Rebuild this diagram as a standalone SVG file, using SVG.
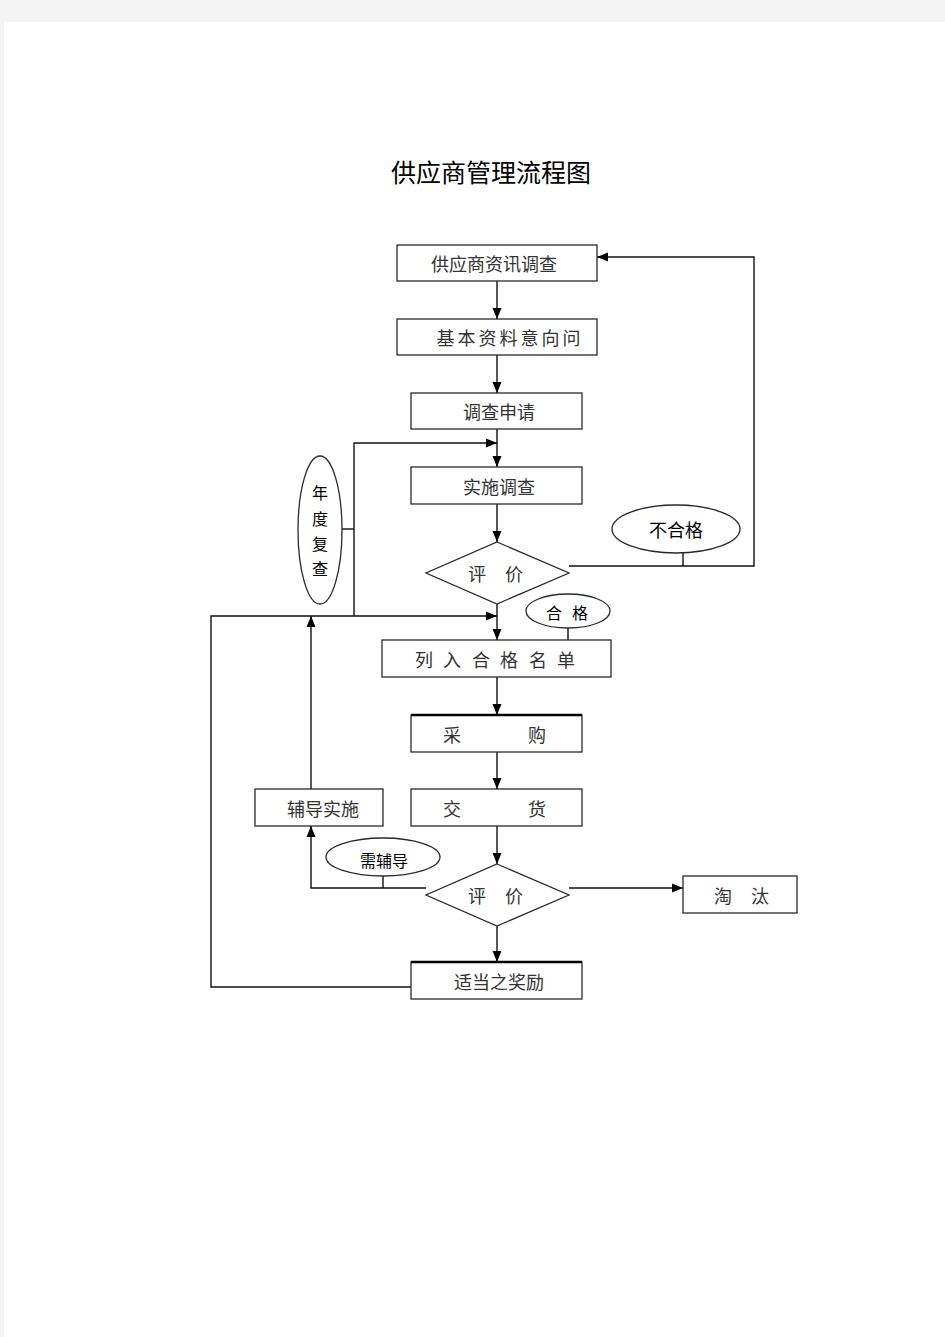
<svg xmlns="http://www.w3.org/2000/svg" width="945" height="1337" viewBox="0 0 945 1337">
<defs>
<style>
.bg{fill:#f4f4f4}
.page{fill:#ffffff}
.box{fill:#ffffff;stroke:#2a2a2a;stroke-width:1.3}
.ell{fill:#ffffff;stroke:#2a2a2a;stroke-width:1.3}
.t{font-family:"Noto Sans CJK SC","Liberation Serif",serif;font-size:18px;fill:#333333;dominant-baseline:central;text-anchor:middle}
.te{font-family:"Noto Sans CJK SC","Liberation Sans",sans-serif;font-size:16px;fill:#000000;dominant-baseline:central;text-anchor:middle}
.title{font-family:"Noto Sans CJK SC","Liberation Serif",serif;font-size:25px;fill:#000000;dominant-baseline:central;text-anchor:middle}
.c{fill:none;stroke:#111111;stroke-width:1.4}
.thick{stroke:#000;stroke-width:2.4}
</style>
<marker id="arr" markerUnits="userSpaceOnUse" markerWidth="12" markerHeight="10" refX="11" refY="5" orient="auto">
<path d="M0,0.5 L11,5 L0,9.5 z" fill="#000000"/>
</marker>
</defs>
<rect class="bg" x="0" y="0" width="945" height="1337"/>
<rect class="page" x="4" y="22" width="941" height="1315"/>
<text class="title" x="491" y="171">供应商管理流程图</text>

<g id="connectors">
<line class="c" x1="497" y1="281" x2="497" y2="319" marker-end="url(#arr)"/>
<line class="c" x1="497" y1="355" x2="497" y2="393" marker-end="url(#arr)"/>
<line class="c" x1="497" y1="429" x2="497" y2="467" marker-end="url(#arr)"/>
<polyline class="c" points="354,616 354,443 497,443" marker-end="url(#arr)"/>
<line class="c" x1="342" y1="529" x2="354" y2="529"/>
<line class="c" x1="497" y1="504" x2="497" y2="542" marker-end="url(#arr)"/>
<polyline class="c" points="569,566 754,566 754,257 597,257" marker-end="url(#arr)"/>
<line class="c" x1="683" y1="553" x2="683" y2="566"/>
<line class="c" x1="497" y1="604" x2="497" y2="640" marker-end="url(#arr)"/>
<line class="c" x1="568" y1="627" x2="568" y2="640"/>
<polyline class="c" points="411,987 211,987 211,616 497,616" marker-end="url(#arr)"/>
<line class="c" x1="311" y1="789" x2="311" y2="616" marker-end="url(#arr)"/>
<line class="c" x1="497" y1="677" x2="497" y2="715" marker-end="url(#arr)"/>
<line class="c" x1="497" y1="752" x2="497" y2="789" marker-end="url(#arr)"/>
<line class="c" x1="497" y1="826" x2="497" y2="864" marker-end="url(#arr)"/>
<polyline class="c" points="426,888 311,888 311,826" marker-end="url(#arr)"/>
<line class="c" x1="383" y1="876" x2="383" y2="888"/>
<line class="c" x1="569" y1="888" x2="683" y2="888" marker-end="url(#arr)"/>
<line class="c" x1="497" y1="926" x2="497" y2="962" marker-end="url(#arr)"/>
</g>

<g id="n1"><rect class="box" x="397" y="245" width="200" height="36"/><text class="t" x="494" y="263">供应商资讯调查</text></g>
<g id="n2"><rect class="box" x="397" y="319" width="200" height="36"/><text class="t" x="510" y="337" letter-spacing="3">基本资料意向问</text></g>
<g id="n3"><rect class="box" x="411" y="393" width="171" height="36"/><text class="t" x="499" y="411">调查申请</text></g>
<g id="n4"><rect class="box" x="411" y="467" width="171" height="37"/><text class="t" x="499" y="486">实施调查</text></g>
<g id="d1"><polygon class="box" points="497,542 569,573 497,604 426,573"/><text class="t" x="477" y="573">评</text><text class="t" x="514" y="573">价</text></g>
<g id="e1"><ellipse class="ell" cx="320" cy="530" rx="22" ry="74"/><text class="te" x="320" y="492">年</text><text class="te" x="320" y="518">度</text><text class="te" x="320" y="543">复</text><text class="te" x="320" y="568">查</text></g>
<g id="e2"><ellipse class="ell" cx="676" cy="529" rx="64" ry="24"/><text class="te" x="676" y="529" style="font-size:18px">不合格</text></g>
<g id="e3"><ellipse class="ell" cx="568" cy="611" rx="42" ry="17"/><text class="te" x="554" y="612">合</text><text class="te" x="580" y="612">格</text></g>
<g id="n5"><rect class="box" x="382" y="640" width="229" height="37"/><text class="t" x="424" y="659">列</text><text class="t" x="452" y="659">入</text><text class="t" x="481" y="659">合</text><text class="t" x="509" y="659">格</text><text class="t" x="538" y="659">名</text><text class="t" x="566" y="659">单</text></g>
<g id="n6"><rect class="box" x="411" y="715" width="171" height="37"/><line class="thick" x1="411" y1="715" x2="582" y2="715"/><text class="t" x="452" y="734">采</text><text class="t" x="537" y="734">购</text></g>
<g id="n7"><rect class="box" x="411" y="789" width="171" height="37"/><text class="t" x="452" y="808">交</text><text class="t" x="537" y="808">货</text></g>
<g id="n8"><rect class="box" x="255" y="789" width="128" height="37"/><text class="t" x="323" y="808">辅导实施</text></g>
<g id="e4"><ellipse class="ell" cx="383" cy="857" rx="57" ry="19"/><text class="te" x="384" y="860">需辅导</text></g>
<g id="d2"><polygon class="box" points="497,864 569,895 497,926 426,895"/><text class="t" x="477" y="895">评</text><text class="t" x="514" y="895">价</text></g>
<g id="n9"><rect class="box" x="683" y="876" width="114" height="37"/><text class="t" x="723" y="895">淘</text><text class="t" x="760" y="895">汰</text></g>
<g id="n10"><rect class="box" x="411" y="962" width="171" height="37"/><line class="thick" x1="411" y1="962" x2="582" y2="962"/><text class="t" x="499" y="981">适当之奖励</text></g>
</svg>
